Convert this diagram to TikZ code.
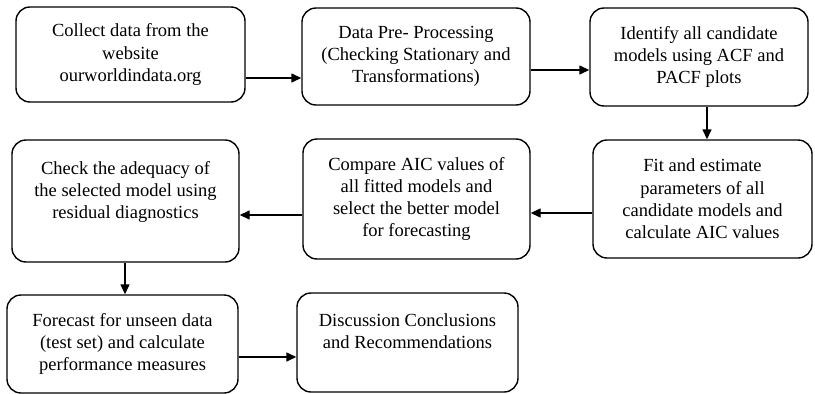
\documentclass[tikz,border=0pt]{standalone}
\usepackage{fontspec}
\setmainfont{Liberation Serif}
\usetikzlibrary{arrows.meta}

\begin{document}
\begin{tikzpicture}  % ------ time series workflow -------------------
      [x=1pt,y=-1pt,
       box/.style={draw, line width=1.4pt, rounded corners=14pt, align=center, inner sep=0pt,
                   font=\fontsize{18.5}{22.3}\selectfont},
       arr/.style={line width=1.4pt, -{Triangle[length=10pt,width=9pt]}}]

    \useasboundingbox (0,0) rectangle (815,394);

    \node[box, minimum width=229pt, minimum height=95pt]  (collect) at (130.5,54.5)
        {Collect data from the\\ website\\ ourworldindata.org};
    \node[box, minimum width=228pt, minimum height=97pt]  (prep) at (416,56.5)
        {Data Pre- Processing\\ (Checking Stationary and\\ Transformations)};
    \node[box, minimum width=218pt, minimum height=98pt]  (ident) at (699,57)
        {Identify all candidate\\ models using ACF and\\ PACF plots};
    \node[box, minimum width=219pt, minimum height=118pt] (fit) at (702.5,199)
        {Fit and estimate\\ parameters of all\\ candidate models and\\ calculate AIC values};
    \node[box, minimum width=227pt, minimum height=120pt] (comp) at (416.5,199)
        {Compare AIC values of\\ all fitted models and\\ select the better model\\ for forecasting};
    \node[box, minimum width=227pt, minimum height=122pt] (check) at (125.5,201)
        {Check the adequacy of\\ the selected model using\\ residual diagnostics\\ \mbox{}};
    \node[box, minimum width=231pt, minimum height=98pt]  (fcast) at (122.5,344)
        {Forecast for unseen data\\ (test set) and calculate\\ performance measures};
    \node[box, minimum width=221pt, minimum height=99pt]  (disc) at (407.5,342.5)
        {Discussion Conclusions\\ and Recommendations\\ \mbox{}};

    \draw[arr] ([yshift=-23.5pt]collect.east) -- ([yshift=-21.5pt]prep.west) ; % row 1
    \draw[arr] ([yshift=-13.5pt]prep.east) -- ([yshift=-13pt]ident.west) ;
    \draw[arr] ([xshift=8pt]ident.south) -- ([xshift=4.5pt]fit.north) ; % down
    \draw[arr] ([yshift=-14pt]fit.west) -- ([yshift=-14pt]comp.east) ; % row 2
    \draw[arr] ([yshift=-16pt]comp.west) -- ([yshift=-14pt]check.east) ;
    \draw[arr] ([xshift=-0.5pt]check.south) -- ([xshift=2.5pt]fcast.north) ; % down
    \draw[arr] ([yshift=-13pt]fcast.east) -- ([yshift=-14.5pt]disc.west) ; % row 3
\end{tikzpicture}
\end{document}
